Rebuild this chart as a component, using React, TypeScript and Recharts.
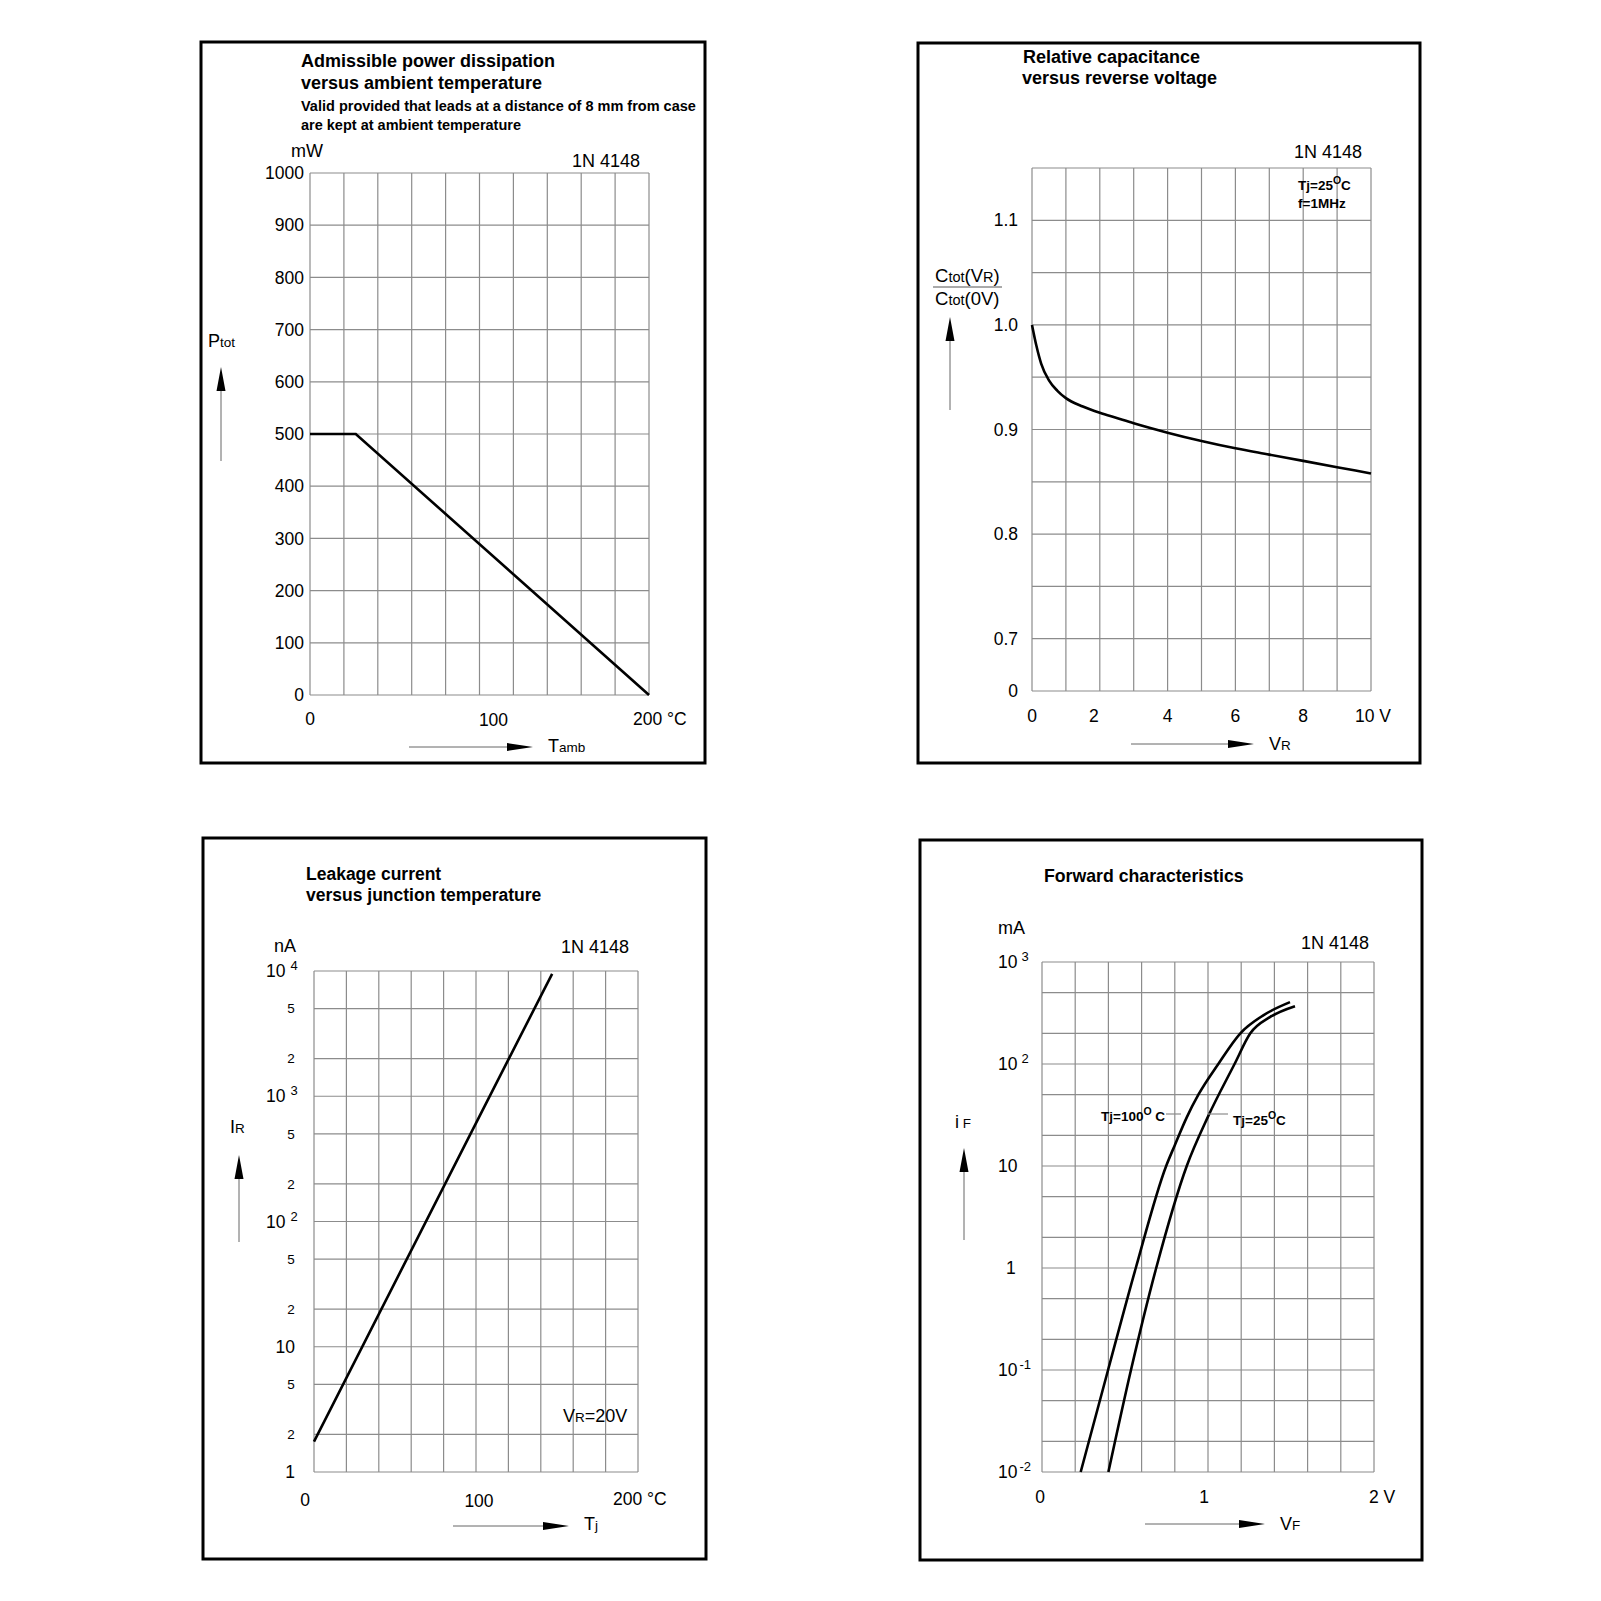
import React from "react";
import { LineChart, Line, XAxis, YAxis, CartesianGrid } from "recharts";

// ---- data ----

// Admissible power dissipation vs ambient temperature
const tambC = [0, 27, 200];
const ptotMW = [500, 500, 0];
const tambTicks = [0, 20, 40, 60, 80, 100, 120, 140, 160, 180, 200];
const ptotTicks = [0, 100, 200, 300, 400, 500, 600, 700, 800, 900, 1000];

// Relative capacitance vs reverse voltage
const vrV = [0, 0.13, 0.27, 0.5, 0.75, 1, 1.5, 2, 2.5, 3, 4, 5, 6, 7, 8, 9, 10];
const ctotRatio = [1.0, 0.98, 0.963, 0.947, 0.937, 0.93, 0.922, 0.916, 0.911, 0.906, 0.897, 0.889, 0.882, 0.876, 0.87, 0.864, 0.858];
const vrTicks = [0, 1, 2, 3, 4, 5, 6, 7, 8, 9, 10];
const ctotTicks = [0.65, 0.7, 0.75, 0.8, 0.85, 0.9, 0.95, 1.0, 1.05, 1.1, 1.15];
const ctotTickLabels = ["0", "0.7", "", "0.8", "", "0.9", "", "1.0", "", "1.1", ""];

// Leakage current vs junction temperature (VR = 20 V)
const tjC = [0, 100, 147];
const irNA = [1.75, 610, 9500];
const tjTicks = [0, 20, 40, 60, 80, 100, 120, 140, 160, 180, 200];
const irTicks = [1, 2, 5, 10, 20, 50, 100, 200, 500, 1000, 2000, 5000, 10000];

// Forward characteristics
const vf100 = [0.233, 0.398, 0.565, 0.748, 0.8, 0.872, 0.942, 1.062, 1.195, 1.333, 1.494];
const if100 = [0.01, 0.1, 1, 10, 16, 30, 50, 100, 200, 300, 404];
const vf25 = [0.4, 0.536, 0.688, 0.872, 0.998, 1.16, 1.255, 1.373, 1.524];
const if25 = [0.01, 0.1, 1, 10, 30, 100, 200, 288, 369];
const vfTicks = [0, 0.2, 0.4, 0.6, 0.8, 1, 1.2, 1.4, 1.6, 1.8, 2];
const ifTicks = [0.01, 0.02, 0.05, 0.1, 0.2, 0.5, 1, 2, 5, 10, 20, 50, 100, 200, 500, 1000];
const ifDecadeLabels: Record<string, [string, string]> = {
  "0.01": ["10", "-2"],
  "0.1": ["10", "-1"],
  "1": ["1", ""],
  "10": ["10", ""],
  "100": ["10", "2"],
  "1000": ["10", "3"],
};

const powerData = tambC.map((t, i) => ({ t, p: ptotMW[i] }));
const capData = vrV.map((v, i) => ({ v, c: ctotRatio[i] }));
const leakData = tjC.map((t, i) => ({ t, ir: irNA[i] }));
const fwd100Data = vf100.map((vf, i) => ({ vf, i: if100[i] }));
const fwd25Data = vf25.map((vf, i) => ({ vf, i: if25[i] }));

// ---- styling ----
const FONT = '"Liberation Sans", Arial, Helvetica, sans-serif';
const GRID = "#8c8c8c";
const INK = "#000";
const PAD_L = 110;
const PAD_T = 12;
const PAD_R = 70;
const PAD_B = 70;
const TICK = 17.5;

type Frame = { left: number; top: number; right: number; bottom: number };

const powerFrame: Frame = { left: 310, top: 173, right: 649, bottom: 695 };
const capFrame: Frame = { left: 1032, top: 168, right: 1371, bottom: 691 };
const leakFrame: Frame = { left: 314, top: 971, right: 638, bottom: 1472 };
const fwdFrame: Frame = { left: 1042, top: 962, right: 1374, bottom: 1472 };

const txt = (size: number, bold = false) => ({
  fontFamily: FONT,
  fontSize: size,
  fontWeight: bold ? 700 : 400,
  fill: INK,
});

function Plot({ frame, children }: { frame: Frame; children: React.ReactNode }) {
  const w = frame.right - frame.left;
  const h = frame.bottom - frame.top;
  return (
    <div style={{ position: "absolute", left: frame.left - PAD_L, top: frame.top - PAD_T }}>
      <LineChart
        width={w + PAD_L + PAD_R}
        height={h + PAD_T + PAD_B}
        margin={{ top: PAD_T, right: PAD_R, left: 0, bottom: 0 }}
      >
        {children}
      </LineChart>
    </div>
  );
}

// ---- tick renderers ----
const PtotTick = ({ x, y, payload }: any) => (
  <text x={x - 6} y={y} dy="0.35em" textAnchor="end" {...txt(TICK)}>
    {payload.value}
  </text>
);

const TambTick = ({ x, y, payload }: any) => {
  const v = payload.value;
  if (v === 0) return <text x={x} y={y + 30} textAnchor="middle" {...txt(TICK)}>0</text>;
  if (v === 100) return <text x={x + 14} y={y + 31} textAnchor="middle" {...txt(TICK)}>100</text>;
  if (v === 200)
    return (
      <text x={x - 16} y={y + 30} {...txt(TICK)}>
        200 °C
      </text>
    );
  return <g />;
};

const CtotTick = ({ x, y, payload }: any) => {
  const label = ctotTickLabels[ctotTicks.indexOf(payload.value)];
  if (!label) return <g />;
  return (
    <text x={x - 14} y={y} dy="0.35em" textAnchor="end" {...txt(TICK)}>
      {label}
    </text>
  );
};

const VrTick = ({ x, y, payload }: any) => {
  const v = payload.value;
  if (v % 2 !== 0) return <g />;
  if (v === 10)
    return (
      <text x={x - 16} y={y + 31} {...txt(TICK)}>
        10 V
      </text>
    );
  return (
    <text x={x + (v === 2 ? -6 : 0)} y={y + 31} textAnchor="middle" {...txt(TICK)}>
      {v}
    </text>
  );
};

const IrTick = ({ x, y, payload }: any) => {
  const v = payload.value as number;
  const exp = Math.round(Math.log10(v));
  const isDecade = Math.abs(Math.log10(v) - exp) < 1e-6;
  if (!isDecade) {
    const lead = String(v)[0];
    return (
      <text x={x - 23} y={y} dy="0.35em" textAnchor="middle" {...txt(13.5)}>
        {lead}
      </text>
    );
  }
  if (exp <= 1)
    return (
      <text x={x - 19} y={y} dy="0.35em" textAnchor="end" {...txt(TICK)}>
        {v}
      </text>
    );
  return (
    <text x={x - 48} y={y} dy="0.35em" {...txt(TICK)}>
      10
      <tspan dx={5} dy={-7} fontSize={13}>
        {exp}
      </tspan>
    </text>
  );
};

const TjTick = ({ x, y, payload }: any) => {
  const v = payload.value;
  if (v === 0) return <text x={x - 9} y={y + 34} textAnchor="middle" {...txt(TICK)}>0</text>;
  if (v === 100) return <text x={x + 3} y={y + 35} textAnchor="middle" {...txt(TICK)}>100</text>;
  if (v === 200)
    return (
      <text x={x - 25} y={y + 33} {...txt(TICK)}>
        200 °C
      </text>
    );
  return <g />;
};

const IfTick = ({ x, y, payload }: any) => {
  const lab = ifDecadeLabels[String(payload.value)];
  if (!lab) return <g />;
  const [base, sup] = lab;
  if (base === "1")
    return (
      <text x={x - 36} y={y} dy="0.35em" {...txt(TICK)}>
        1
      </text>
    );
  return (
    <text x={x - 44} y={y} dy="0.35em" {...txt(TICK)}>
      {base}
      {sup && (
        <tspan dx={sup.length > 1 ? 2 : 4} dy={-7} fontSize={13}>
          {sup}
        </tspan>
      )}
    </text>
  );
};

const VfTick = ({ x, y, payload }: any) => {
  const v = payload.value;
  if (v === 0) return <text x={x - 2} y={y + 31} textAnchor="middle" {...txt(TICK)}>0</text>;
  if (v === 1) return <text x={x - 4} y={y + 31} textAnchor="middle" {...txt(TICK)}>1</text>;
  if (v === 2)
    return (
      <text x={x - 5} y={y + 31} {...txt(TICK)}>
        2 V
      </text>
    );
  return <g />;
};

// ---- overlay pieces ----
const ArrowUp = ({ x, tip, bottom }: { x: number; tip: number; bottom: number }) => (
  <g>
    <line x1={x} x2={x} y1={tip + 20} y2={bottom} stroke="#666" strokeWidth={1} />
    <polygon points={`${x},${tip} ${x - 4.5},${tip + 24} ${x + 4.5},${tip + 24}`} fill={INK} />
  </g>
);

const ArrowRight = ({ y, from, tip }: { y: number; from: number; tip: number }) => (
  <g>
    <line x1={from} x2={tip - 20} y1={y} y2={y} stroke="#666" strokeWidth={1} />
    <polygon points={`${tip},${y} ${tip - 26},${y - 4} ${tip - 26},${y + 4}`} fill={INK} />
  </g>
);

const Box = ({ f }: { f: Frame }) => (
  <rect x={f.left} y={f.top} width={f.right - f.left} height={f.bottom - f.top} fill="none" stroke={INK} strokeWidth={3} />
);

const axisCommon = { tickSize: 0, tickMargin: 0, tickLine: false, axisLine: false, interval: 0 as const };

export default function App() {
  return (
    <div style={{ position: "absolute", left: 0, top: 0, width: 1601, height: 1601, background: "#fff", fontFamily: FONT }}>
      {/* Admissible power dissipation */}
      <Plot frame={powerFrame}>
        <CartesianGrid stroke={GRID} strokeWidth={1.2} />
        <XAxis type="number" dataKey="t" domain={[0, 200]} ticks={tambTicks} height={PAD_B} tick={TambTick} {...axisCommon} />
        <YAxis type="number" domain={[0, 1000]} ticks={ptotTicks} width={PAD_L} tick={PtotTick} {...axisCommon} />
        <Line data={powerData} dataKey="p" type="linear" stroke={INK} strokeWidth={2.6} dot={false} isAnimationActive={false} />
      </Plot>

      {/* Relative capacitance */}
      <Plot frame={capFrame}>
        <CartesianGrid stroke={GRID} strokeWidth={1.2} />
        <XAxis type="number" dataKey="v" domain={[0, 10]} ticks={vrTicks} height={PAD_B} tick={VrTick} {...axisCommon} />
        <YAxis type="number" domain={[0.65, 1.15]} ticks={ctotTicks} width={PAD_L} tick={CtotTick} {...axisCommon} />
        <Line data={capData} dataKey="c" type="monotone" stroke={INK} strokeWidth={2.6} dot={false} isAnimationActive={false} />
      </Plot>

      {/* Leakage current */}
      <Plot frame={leakFrame}>
        <CartesianGrid stroke={GRID} strokeWidth={1.2} />
        <XAxis type="number" dataKey="t" domain={[0, 200]} ticks={tjTicks} height={PAD_B} tick={TjTick} {...axisCommon} />
        <YAxis type="number" scale="log" domain={[1, 10000]} ticks={irTicks} width={PAD_L} tick={IrTick} {...axisCommon} />
        <Line data={leakData} dataKey="ir" type="linear" stroke={INK} strokeWidth={2.6} dot={false} isAnimationActive={false} />
      </Plot>

      {/* Forward characteristics */}
      <Plot frame={fwdFrame}>
        <CartesianGrid stroke={GRID} strokeWidth={1.2} />
        <XAxis type="number" dataKey="vf" domain={[0, 2]} ticks={vfTicks} height={PAD_B} tick={VfTick} {...axisCommon} />
        <YAxis type="number" scale="log" domain={[0.01, 1000]} ticks={ifTicks} width={PAD_L} tick={IfTick} {...axisCommon} />
        <Line data={fwd100Data} dataKey="i" type="monotone" stroke={INK} strokeWidth={2.6} dot={false} isAnimationActive={false} />
        <Line data={fwd25Data} dataKey="i" type="monotone" stroke={INK} strokeWidth={2.6} dot={false} isAnimationActive={false} />
      </Plot>

      <svg width={1601} height={1601} style={{ position: "absolute", left: 0, top: 0, pointerEvents: "none" }}>
        {/* panel 1 */}
        <Box f={{ left: 201, top: 42, right: 705, bottom: 763 }} />
        <text x={301} y={67} {...txt(18, true)}>Admissible power dissipation</text>
        <text x={301} y={89} {...txt(18, true)}>versus ambient temperature</text>
        <text x={301} y={111} {...txt(14.5, true)}>Valid provided that leads at a distance of 8 mm from case</text>
        <text x={301} y={130} {...txt(14.5, true)}>are kept at ambient temperature</text>
        <text x={291} y={157} {...txt(18)}>mW</text>
        <text x={572} y={167} {...txt(18)}>1N 4148</text>
        <text x={208} y={347} {...txt(18)}>
          P<tspan fontSize={13.5}>tot</tspan>
        </text>
        <ArrowUp x={221} tip={367} bottom={461} />
        <ArrowRight y={747} from={409} tip={533} />
        <text x={548} y={752} {...txt(18)}>
          T<tspan fontSize={13.5}>amb</tspan>
        </text>

        {/* panel 2 */}
        <Box f={{ left: 918, top: 43, right: 1420, bottom: 763 }} />
        <text x={1023} y={63} {...txt(18, true)}>Relative capacitance</text>
        <text x={1022} y={84} {...txt(18, true)}>versus reverse voltage</text>
        <text x={1294} y={158} {...txt(18)}>1N 4148</text>
        <text x={1298} y={190} {...txt(13.5, true)}>
          Tj=25<tspan dy={-6} fontSize={10.5}>O</tspan>
          <tspan dy={6}>C</tspan>
        </text>
        <text x={1298} y={208} {...txt(13.5, true)}>f=1MHz</text>
        <text x={935} y={282} {...txt(18.5)}>
          C<tspan fontSize={14.5}>tot</tspan>(V<tspan fontSize={14.5}>R</tspan>)
        </text>
        <line x1={933} x2={1002} y1={287} y2={287} stroke="#555" strokeWidth={1} />
        <text x={935} y={305} {...txt(18.5)}>
          C<tspan fontSize={14.5}>tot</tspan>(0V)
        </text>
        <ArrowUp x={950} tip={317} bottom={410} />
        <ArrowRight y={744} from={1131} tip={1254} />
        <text x={1269} y={750} {...txt(18)}>
          V<tspan fontSize={13.5}>R</tspan>
        </text>

        {/* panel 3 */}
        <Box f={{ left: 203, top: 838, right: 706, bottom: 1559 }} />
        <text x={306} y={880} {...txt(17.5, true)}>Leakage current</text>
        <text x={306} y={901} {...txt(17.5, true)}>versus junction temperature</text>
        <text x={274} y={952} {...txt(18)}>nA</text>
        <text x={561} y={953} {...txt(18)}>1N 4148</text>
        <text x={230} y={1133} {...txt(18)}>
          I<tspan fontSize={13.5}>R</tspan>
        </text>
        <ArrowUp x={239} tip={1155} bottom={1242} />
        <text x={563} y={1422} {...txt(18)}>
          V<tspan fontSize={13.5}>R</tspan>=20V
        </text>
        <ArrowRight y={1526} from={453} tip={569} />
        <text x={584} y={1530} {...txt(18)}>
          T<tspan fontSize={13.5}>j</tspan>
        </text>

        {/* panel 4 */}
        <Box f={{ left: 920, top: 840, right: 1422, bottom: 1560 }} />
        <text x={1044} y={882} {...txt(17.7, true)}>Forward characteristics</text>
        <text x={998} y={934} {...txt(18)}>mA</text>
        <text x={1301} y={949} {...txt(18)}>1N 4148</text>
        <text x={955} y={1128} {...txt(18)}>
          i<tspan fontSize={13.5}> F</tspan>
        </text>
        <ArrowUp x={964} tip={1148} bottom={1240} />
        <ArrowRight y={1524} from={1145} tip={1265} />
        <text x={1280} y={1530} {...txt(18)}>
          V<tspan fontSize={13.5}>F</tspan>
        </text>
        <text x={1101} y={1121} {...txt(13.5, true)}>
          Tj=100<tspan dy={-6} fontSize={10.5}>O</tspan>
          <tspan dy={6}> C</tspan>
        </text>
        <line x1={1166} x2={1181} y1={1114} y2={1114} stroke={GRID} strokeWidth={1.2} />
        <line x1={1208} x2={1228} y1={1114} y2={1114} stroke={GRID} strokeWidth={1.2} />
        <text x={1233} y={1125} {...txt(13.5, true)}>
          Tj=25<tspan dy={-6} fontSize={10.5}>O</tspan>
          <tspan dy={6}>C</tspan>
        </text>
      </svg>
    </div>
  );
}
